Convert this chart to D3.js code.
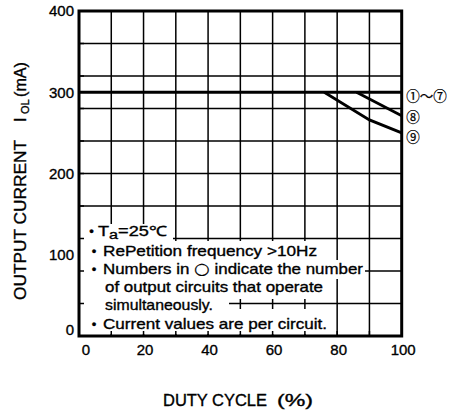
<!DOCTYPE html>
<html>
<head>
<meta charset="utf-8">
<script src="https://cdn.jsdelivr.net/npm/d3@7"></script>
<style>
  body { margin: 0; background: #fff; }
  svg { display: block; }
  text { font-family: "Liberation Sans", Arial, sans-serif; fill: #000; stroke: #000; stroke-width: 0.35px; }
</style>
</head>
<body>
<div id="chart"></div>
<script>
// chart values
var dutyTicks = [0, 20, 40, 60, 80, 100];
var currentTicks = [0, 100, 200, 300, 400];
var dutyGrid = [10, 20, 30, 40, 50, 60, 70, 80, 90];
var currentGrid = [40, 80, 120, 160, 200, 240, 280, 320, 360];

var seriesLabels = ["①～⑦", "⑧", "⑨"];
var seriesDuty = [[0, 100], [86, 100], [76, 90, 100]];
var seriesCurrent = [[300, 300], [300, 271], [300, 266, 250]];

var noteLines = ["Ta=25℃", "RePetition frequency >10Hz", "Numbers in ○ indicate the number",
                 "of output circuits that operate", "simultaneously.", "Current values are per circuit."];
var noteBullets = [true, true, true, false, false, true];

// label / note layout (pixels)
var labelDy = [3, 0.5, 3];
var bulletX = [91.5, 94, 94, 0, 0, 94],
    noteX = [98, 103, 103, 105, 105, 103],
    noteBase = [236, 255.5, 274, 292, 310, 328.5],
    noteWidth = [69, 214, 260, 218, 108, 224],
    noteSize = [14, 15, 15, 15, 15, 15],
    maskRight = [173, 320, 365, 326, 229, 330],
    maskTop = [224, 241, 260, 279, 299, 309],
    maskBottom = [241, 260, 279, 299, 313, 334];

var W = 458, H = 411;
var margin = {top: 11, right: 56.3, bottom: 75, left: 79};

var x = d3.scaleLinear().domain([0, 100]).range([margin.left, W - margin.right]);
var y = d3.scaleLinear().domain([0, 400]).range([H - margin.bottom, margin.top]);

var svg = d3.select("#chart").append("svg")
    .attr("width", W)
    .attr("height", H);

// grid
svg.append("g")
    .selectAll("line")
    .data(dutyGrid)
  .enter().append("line")
    .attr("x1", function(d) { return x(d); })
    .attr("x2", function(d) { return x(d); })
    .attr("y1", y(400))
    .attr("y2", y(0))
    .attr("stroke", "#000")
    .attr("stroke-width", 1.5);

svg.append("g")
    .selectAll("line")
    .data(currentGrid)
  .enter().append("line")
    .attr("x1", x(0))
    .attr("x2", x(100))
    .attr("y1", function(d) { return y(d); })
    .attr("y2", function(d) { return y(d); })
    .attr("stroke", "#000")
    .attr("stroke-width", 1.5);

// data lines
var line = d3.line()
    .x(function(d) { return x(d[0]); })
    .y(function(d) { return y(d[1]); });

seriesDuty.forEach(function(duty, i) {
  var pts = duty.map(function(d, j) { return [d, seriesCurrent[i][j]]; });
  svg.append("path")
      .attr("d", line(pts))
      .attr("fill", "none")
      .attr("stroke", "#000")
      .attr("stroke-width", 2.8);
  var last = seriesCurrent[i][seriesCurrent[i].length - 1];
  svg.append("text")
      .attr("x", x(100) + 4.5)
      .attr("y", y(last) + labelDy[i])
      .attr("dominant-baseline", "central")
      .style("font-family", "'Noto Sans CJK JP', 'DejaVu Sans', sans-serif")
      .style("font-size", "13.5px")
      .style("stroke-width", "0.25px")
      .text(seriesLabels[i]);
});

// notes box (white behind the text)
var notes = svg.append("g");
noteLines.forEach(function(t, i) {
  notes.append("rect")
      .attr("x", x(0))
      .attr("y", maskTop[i])
      .attr("width", maskRight[i] - x(0))
      .attr("height", maskBottom[i] - maskTop[i])
      .attr("fill", "#fff");
});

noteLines.forEach(function(t, i) {
  if (noteBullets[i]) {
    notes.append("text")
        .attr("x", bulletX[i])
        .attr("y", noteBase[i])
        .attr("text-anchor", "middle")
        .style("font-size", "13px")
        .text("•");
  }
  var tx = notes.append("text")
      .attr("x", noteX[i])
      .attr("y", noteBase[i])
      .attr("textLength", noteWidth[i])
      .attr("lengthAdjust", "spacingAndGlyphs")
      .style("font-size", noteSize[i] + "px");
  if (i === 0) {
    tx.append("tspan").text("T");
    tx.append("tspan").attr("dy", 2.5).style("font-size", "12.5px").text("a");
    tx.append("tspan").attr("dy", -2.5).text("=25℃");
  } else if (t.indexOf("○") >= 0) {
    var parts = t.split("○");
    tx.append("tspan").text(parts[0]);
    tx.append("tspan")
        .style("font-family", "'DejaVu Sans', sans-serif")
        .style("font-size", "16px")
        .style("stroke-width", "0.2px")
        .text("○");
    tx.append("tspan").text(parts[1]);
  } else {
    tx.text(t);
  }
});

// inner ticks left over at the axes
svg.append("g")
    .selectAll("line")
    .data(dutyGrid)
  .enter().append("line")
    .attr("x1", function(d) { return x(d); })
    .attr("x2", function(d) { return x(d); })
    .attr("y1", y(0))
    .attr("y2", y(0) - 5)
    .attr("stroke", "#000")
    .attr("stroke-width", 1.5);

svg.append("g")
    .selectAll("line")
    .data(currentGrid)
  .enter().append("line")
    .attr("x1", x(0))
    .attr("x2", x(0) + 5)
    .attr("y1", function(d) { return y(d); })
    .attr("y2", function(d) { return y(d); })
    .attr("stroke", "#000")
    .attr("stroke-width", 1.5);

// frame
svg.append("rect")
    .attr("x", x(0))
    .attr("y", y(400))
    .attr("width", x(100) - x(0))
    .attr("height", y(0) - y(400))
    .attr("fill", "none")
    .attr("stroke", "#000")
    .attr("stroke-width", 3);

// tick labels
svg.append("g")
    .selectAll("text")
    .data(currentTicks)
  .enter().append("text")
    .attr("x", 74)
    .attr("y", function(d) { return y(d) - (d === 0 ? 6 : 0); })
    .attr("dy", "0.36em")
    .attr("text-anchor", "end")
    .style("font-size", "15px")
    .text(function(d) { return d; });

svg.append("g")
    .selectAll("text")
    .data(dutyTicks)
  .enter().append("text")
    .attr("x", function(d) { return x(d) + (d === 0 ? 7 : 1.5); })
    .attr("y", 355)
    .attr("text-anchor", "middle")
    .style("font-size", "15px")
    .text(function(d) { return d; });

// axis titles
var yt = svg.append("g")
    .attr("transform", "translate(25.5,300) rotate(-90)");
yt.append("text")
    .attr("x", 0)
    .attr("textLength", 160)
    .attr("lengthAdjust", "spacingAndGlyphs")
    .style("font-size", "16px")
    .text("OUTPUT CURRENT");
yt.append("text")
    .attr("x", 178)
    .style("font-size", "16px")
    .text("I");
yt.append("text")
    .attr("x", 186)
    .attr("y", 3)
    .style("font-size", "11px")
    .text("OL");
yt.append("text")
    .attr("x", 203)
    .attr("textLength", 35)
    .attr("lengthAdjust", "spacingAndGlyphs")
    .style("font-size", "16px")
    .text("(mA)");

svg.append("text")
    .attr("x", 163)
    .attr("y", 406)
    .attr("textLength", 104)
    .attr("lengthAdjust", "spacingAndGlyphs")
    .style("font-size", "16px")
    .text("DUTY CYCLE");
svg.append("text")
    .attr("x", 277)
    .attr("y", 406)
    .attr("textLength", 36)
    .attr("lengthAdjust", "spacingAndGlyphs")
    .style("font-size", "16px")
    .text("(%)");
</script>
</body>
</html>
